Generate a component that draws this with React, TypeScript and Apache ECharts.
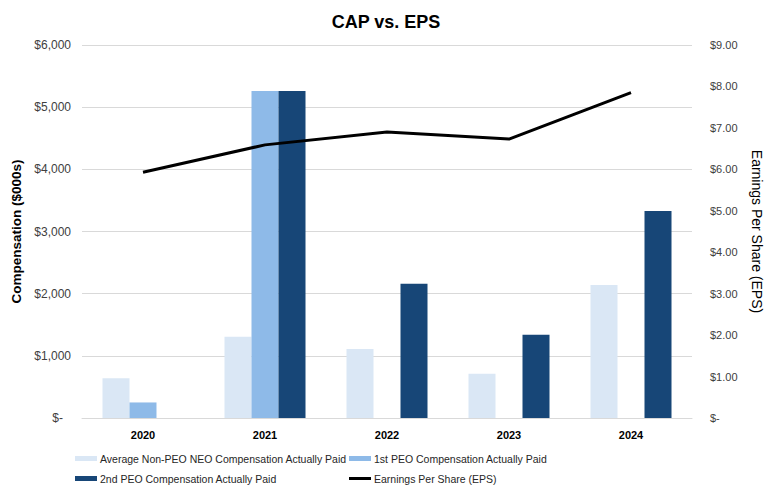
import React, { useEffect, useRef } from "react";
import * as echarts from "echarts";

const years = ["2020", "2021", "2022", "2023", "2024"];
const avgNonPeo = [640, 1305, 1110, 710, 2140];
const firstPeo = [250, 5260, null, null, null];
const secondPeo = [null, 5260, 2160, 1340, 3330];
const eps = [5.93, 6.59, 6.9, 6.73, 7.85];

const seriesNames = [
  "Average Non-PEO NEO Compensation Actually Paid",
  "1st PEO Compensation Actually Paid",
  "2nd PEO Compensation Actually Paid",
  "Earnings Per Share (EPS)",
];
const colors = ["#DAE7F5", "#8EBAE8", "#174677", "#000000"];

const FONT = "Liberation Sans, Arial, sans-serif";

export default function App() {
  const ref = useRef<HTMLDivElement>(null);
  useEffect(() => {
    document.body.style.margin = "0";
    if (!ref.current) return;
    const chart = echarts.init(ref.current, null, { renderer: "svg" });
    const legendText = { fontFamily: FONT, fontSize: 10.5, color: "#262626" };
    const mkLegend = (name: string, left: number, top: number, h: number) => ({
      data: [name],
      left,
      top,
      icon: "rect",
      itemWidth: 22,
      itemHeight: h,
      itemGap: 0,
      padding: 0,
      textStyle: { ...legendText, padding: [0, 0, 0, -2] },
      selectedMode: false,
    });
    chart.setOption({
      animation: false,
      textStyle: { fontFamily: FONT },
      title: {
        text: "CAP vs. EPS",
        left: "center",
        top: 8,
        textStyle: { fontFamily: FONT, fontSize: 18, fontWeight: "bold", color: "#000" },
      },
      legend: [
        mkLegend(seriesNames[0], 75, 453, 5),
        mkLegend(seriesNames[1], 349, 453, 5),
        mkLegend(seriesNames[2], 75, 473, 5),
        mkLegend(seriesNames[3], 349, 473, 3),
      ],
      grid: { left: 82, right: 75, top: 45, bottom: 78, containLabel: false },
      xAxis: {
        type: "category",
        data: years,
        axisLine: { lineStyle: { color: "#D9D9D9", width: 1 } },
        axisTick: { show: false },
        axisLabel: {
          fontFamily: FONT,
          fontSize: 11,
          fontWeight: "bold",
          color: "#000",
          margin: 11,
        },
      },
      yAxis: [
        {
          type: "value",
          min: 0,
          max: 6000,
          interval: 1000,
          name: "Compensation ($000s)",
          nameLocation: "middle",
          nameGap: 59,
          nameTextStyle: { fontFamily: FONT, fontSize: 13.5, fontWeight: "bold", color: "#000" },
          axisLine: { show: false },
          axisTick: { show: false },
          splitLine: { lineStyle: { color: "#D9D9D9", width: 1 } },
          axisLabel: {
            fontFamily: FONT,
            fontSize: 12,
            color: "#404040",
            margin: 11,
            formatter: (v: number) =>
              v === 0 ? "{z|$-}" : "$" + v.toLocaleString("en-US"),
            rich: { z: { fontFamily: FONT, fontSize: 12, color: "#404040", padding: [0, 8, 0, 0] } },
          },
        },
        {
          type: "value",
          min: 0,
          max: 9,
          interval: 1,
          position: "right",
          name: "Earnings Per Share (EPS)",
          nameLocation: "middle",
          nameRotate: -90,
          nameGap: 58,
          nameTextStyle: { fontFamily: FONT, fontSize: 14, fontWeight: "normal", color: "#000" },
          axisLine: { show: false },
          axisTick: { show: false },
          splitLine: { show: false },
          axisLabel: {
            fontFamily: FONT,
            fontSize: 11,
            color: "#404040",
            margin: 18,
            formatter: (v: number) => (v === 0 ? "$-" : "$" + v.toFixed(2)),
          },
        },
      ],
      series: [
        {
          name: seriesNames[0],
          type: "bar",
          data: avgNonPeo,
          barWidth: 27,
          barGap: "0%",
          itemStyle: { color: colors[0] },
        },
        {
          name: seriesNames[1],
          type: "bar",
          data: firstPeo,
          barWidth: 27,
          barGap: "0%",
          itemStyle: { color: colors[1] },
        },
        {
          name: seriesNames[2],
          type: "bar",
          data: secondPeo,
          barWidth: 27,
          barGap: "0%",
          itemStyle: { color: colors[2] },
        },
        {
          name: seriesNames[3],
          type: "line",
          yAxisIndex: 1,
          data: eps,
          showSymbol: false,
          symbol: "none",
          lineStyle: { color: colors[3], width: 3 },
          itemStyle: { color: colors[3] },
          z: 5,
        },
      ],
    });
    return () => chart.dispose();
  }, []);
  return <div ref={ref} style={{ width: 772, height: 496 }} />;
}
